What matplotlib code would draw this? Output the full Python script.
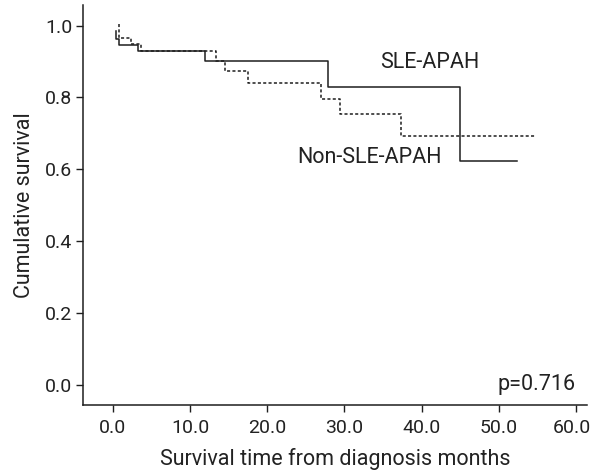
import matplotlib
matplotlib.use('Agg')
import matplotlib.pyplot as plt
import matplotlib.transforms as mtransforms

plt.rcParams['font.family'] = ['Roboto', 'DejaVu Sans']

# Kaplan-Meier step data (time in months, survival)
sle_time = [0.4, 0.4, 0.8, 3.3, 12.0, 27.9, 44.9, 52.3]
sle_surv = [0.985, 0.964, 0.946, 0.930, 0.901, 0.829, 0.624, 0.624]

non_time = [0.8, 0.8, 2.4, 3.7, 13.4, 14.5, 17.5, 26.9, 29.4, 37.3, 54.7]
non_surv = [1.005, 0.965, 0.950, 0.930, 0.901, 0.874, 0.841, 0.796, 0.754, 0.694, 0.694]

x_ticks = [0, 10, 20, 30, 40, 50, 60]
y_ticks = [0.0, 0.2, 0.4, 0.6, 0.8, 1.0]

fig = plt.figure(figsize=(5.93, 4.74), dpi=100)
ax = fig.add_axes([0.1405, 0.1456, 0.8495, 0.844])

col = '#1e1e1e'
txt = '#222222'
fs = 15.5
ax.step(sle_time, sle_surv, where='post', color=col, lw=1.1)
ax.step(non_time, non_surv, where='post', color=col, lw=1.1, linestyle=(0, (2, 1.5)))

ax.set_xlim(-3.8, 61.4)
ax.set_ylim(-0.057, 1.058)
ax.set_xticks(x_ticks)
ax.set_xticklabels([f'{v:.1f}' for v in x_ticks])
ax.set_yticks(y_ticks)
ax.set_yticklabels([f'{v:.1f}' for v in y_ticks])

for s in ['top', 'right']:
    ax.spines[s].set_visible(False)
for s in ['left', 'bottom']:
    ax.spines[s].set_color(col)
    ax.spines[s].set_linewidth(1.1)
ax.tick_params(length=5, width=1.0, color=col, labelsize=14, labelcolor=txt)
ax.tick_params(axis='x', pad=5)
ax.tick_params(axis='y', pad=3)

# last x label sits on the figure edge, nudge it left a bit so it is not cut
last = ax.get_xticklabels()[-1]
last.set_transform(last.get_transform() + mtransforms.ScaledTranslation(-4 / 100, 0, fig.dpi_scale_trans))

ax.set_xlabel('Survival time from diagnosis months', fontsize=fs, color=txt, labelpad=8)
ax.set_ylabel('Cumulative survival', fontsize=fs, color=txt, labelpad=7)

ax.text(41.0, 0.897, 'SLE-APAH', fontsize=fs, color=txt, ha='center', va='center')
ax.text(33.3, 0.632, 'Non-SLE-APAH', fontsize=fs, color=txt, ha='center', va='center')
ax.text(54.8, 0.0, 'p=0.716', fontsize=fs, color=txt, ha='center', va='center')

fig.savefig('out.png', dpi=100)
